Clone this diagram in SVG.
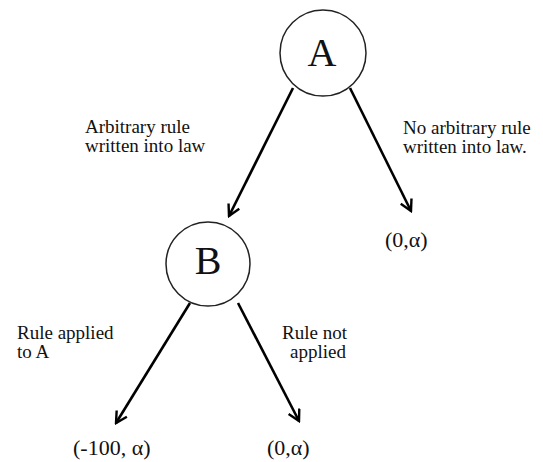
<svg xmlns="http://www.w3.org/2000/svg" width="543" height="462" viewBox="0 0 543 462">
<style>
text{font-family:"Liberation Serif","Times New Roman",serif;fill:#111}
.node{fill:#fff;stroke:#222;stroke-width:1.5}
.big{font-size:40px;text-anchor:middle}
.lbl{font-size:19px}
.pay{font-size:22px}
.edge{stroke:#000;stroke-width:2.6;fill:none}
</style>
<defs>
<marker id="arr" viewBox="0 0 14 14" refX="12" refY="7" markerWidth="14" markerHeight="14" markerUnits="userSpaceOnUse" orient="auto">
<path d="M1,1 L12,7 L1,13" fill="none" stroke="#000" stroke-width="2.4"/>
</marker>
</defs>
<g id="connectors">
<line class="edge" x1="293" y1="88" x2="229" y2="216" marker-end="url(#arr)"/>
<line class="edge" x1="350" y1="88" x2="411" y2="211" marker-end="url(#arr)"/>
<line class="edge" x1="190" y1="303" x2="116" y2="423" marker-end="url(#arr)"/>
<line class="edge" x1="238" y1="303" x2="299" y2="421" marker-end="url(#arr)"/>
</g>
<g id="nodeA">
<circle class="node" cx="323" cy="53" r="43"/>
<text class="big" x="322" y="66">A</text>
</g>
<g id="nodeB">
<circle class="node" cx="208" cy="264" r="42"/>
<text class="big" x="208" y="274">B</text>
</g>
<g id="labels">
<text class="lbl" x="85" y="133">Arbitrary rule</text>
<text class="lbl" x="85" y="152">written into law</text>
<text class="lbl" x="403" y="134">No arbitrary rule</text>
<text class="lbl" x="403" y="153">written into law.</text>
<text class="lbl" x="17" y="339">Rule applied</text>
<text class="lbl" x="17" y="358">to A</text>
<text class="lbl" x="282" y="339">Rule not</text>
<text class="lbl" x="290" y="358">applied</text>
</g>
<g id="payoffs">
<text class="pay" x="385" y="247">(0,α)</text>
<text class="pay" x="73" y="455">(-100, α)</text>
<text class="pay" x="267" y="455">(0,α)</text>
</g>
</svg>
